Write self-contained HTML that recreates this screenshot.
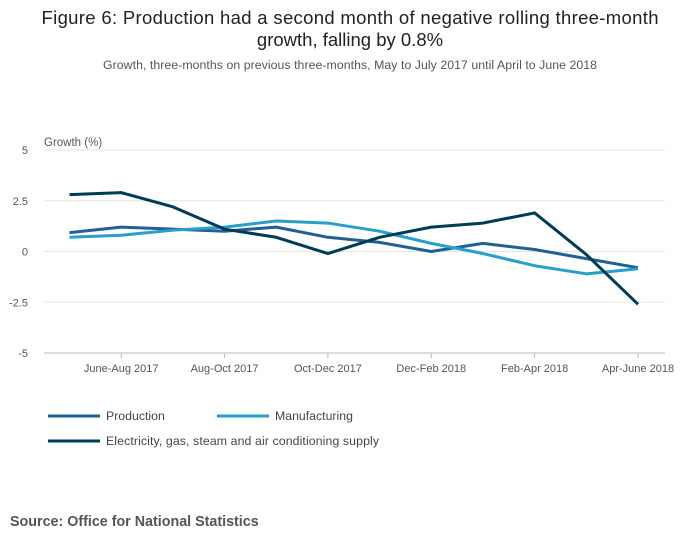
<!DOCTYPE html>
<html><head><meta charset="utf-8"><style>
body{margin:0;background:#fff;font-family:"Liberation Sans",sans-serif;}
svg text{font-family:"Liberation Sans",sans-serif;}
</style></head><body>
<svg width="700" height="549">
<text x="350" y="24" text-anchor="middle" font-size="18.5" fill="#222" textLength="617">Figure 6: Production had a second month of negative rolling three-month</text>
<text x="350" y="46" text-anchor="middle" font-size="18.5" fill="#222">growth, falling by 0.8%</text>
<text x="350" y="69" text-anchor="middle" font-size="12.3" fill="#555" textLength="494">Growth, three-months on previous three-months, May to July 2017 until April to June 2018</text>
<text x="44" y="146" font-size="11.5" fill="#555">Growth (%)</text>
<g id="grid"></g><g id="series"></g>
<g>
<line x1="48" y1="416" x2="100" y2="416" stroke="#206095" stroke-width="3"/>
<text x="106" y="420" font-size="12.3" fill="#444">Production</text>
<line x1="217" y1="416" x2="269" y2="416" stroke="#27a0cc" stroke-width="3"/>
<text x="275" y="420" font-size="12.3" fill="#444">Manufacturing</text>
<line x1="48" y1="441" x2="100" y2="441" stroke="#003c57" stroke-width="3"/>
<text x="106" y="445" font-size="12.3" fill="#444" textLength="273">Electricity, gas, steam and air conditioning supply</text>
</g>
<text x="10" y="526" font-size="14.3" font-weight="bold" fill="#555">Source: Office for National Statistics</text>
</svg>
<script>
const categories=["May-Jul 2017","June-Aug 2017","Jul-Sep 2017","Aug-Oct 2017","Sep-Nov 2017","Oct-Dec 2017","Nov-Jan 2018","Dec-Feb 2018","Jan-Mar 2018","Feb-Apr 2018","Mar-May 2018","Apr-June 2018"];
const production=[0.93,1.2,1.1,1.0,1.2,0.7,0.45,0.0,0.4,0.1,-0.35,-0.8];
const manufacturing=[0.7,0.8,1.05,1.2,1.5,1.4,1.0,0.4,-0.1,-0.7,-1.1,-0.85];
const electricity=[2.8,2.9,2.2,1.1,0.7,-0.1,0.7,1.2,1.4,1.9,-0.15,-2.6];
const yTicks=[5,2.5,0,-2.5,-5];
const yTickLabels=["5","2.5","0","-2.5","-5"];
const NS="http://www.w3.org/2000/svg";
const x=i=>69.5+i*(638-69.5)/11;
const y=v=>251.5-v*20.3;
const grid=document.getElementById('grid'),ser=document.getElementById('series');
function mk(t,a,p){const e=document.createElementNS(NS,t);for(const k in a)e.setAttribute(k,a[k]);p.appendChild(e);return e;}
yTicks.forEach((v,i)=>{
 const l=mk('line',{x1:44,x2:665,y1:y(v),y2:y(v),stroke:v===-5?'#bbb':'#e4e4e4','stroke-width':1},grid);
 
 
 const t=mk('text',{x:28,y:y(v)+4,'text-anchor':'end','font-size':11,fill:'#555'},grid);
 t.textContent=yTickLabels[i];
 
 
});
categories.forEach((c,i)=>{
 if(i%2===1){
  const tk=mk('line',{x1:x(i),x2:x(i),y1:y(-5),y2:y(-5)+5,stroke:'#bbb'},grid);
  
  
  const t=mk('text',{x:x(i),y:372,'text-anchor':'middle','font-size':11,fill:'#555'},grid);
  t.textContent=c;
  
  
 }
});
[[production,'#206095','production-line'],[manufacturing,'#27a0cc','manufacturing-line'],[electricity,'#003c57','electricity-line']].forEach(([d,col,n])=>{
 const p=mk('polyline',{points:d.map((v,i)=>x(i)+','+y(v)).join(' '),fill:'none',stroke:col,'stroke-width':3,'stroke-linejoin':'round'},ser);
 
 
});
</script>
</body></html>
